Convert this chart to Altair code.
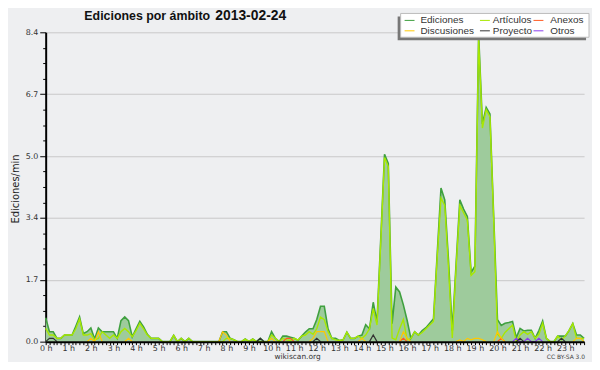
import altair as alt
import pandas as pd

# ---------------- data (10-minute steps, 144 per day) ----------------
hour_labels = [f"{h} h" for h in range(24)]

ediciones = [
    0.65, 0.27, 0.27, 0.09, 0.09, 0.18,   # 0 h
    0.18, 0.18, 0.42, 0.67, 0.22, 0.27,   # 1 h
    0.37, 0.07, 0.37, 0.27, 0.27, 0.27,   # 2 h
    0.27, 0.09, 0.57, 0.67, 0.57, 0.13,   # 3 h
    0.35, 0.55, 0.40, 0.20, 0.09, 0.09,   # 4 h
    0.09, 0.00, 0.00, 0.00, 0.17, 0.00,   # 5 h
    0.09, 0.00, 0.09, 0.00, 0.00, 0.00,   # 6 h
    0.00, 0.00, 0.00, 0.00, 0.00, 0.27,   # 7 h
    0.27, 0.09, 0.05, 0.00, 0.00, 0.07,   # 8 h
    0.00, 0.07, 0.00, 0.09, 0.00, 0.00,   # 9 h
    0.27, 0.09, 0.00, 0.15, 0.15, 0.12,   # 10 h
    0.09, 0.04, 0.15, 0.26, 0.35, 0.35,   # 11 h
    0.60, 0.96, 0.96, 0.35, 0.09, 0.09,   # 12 h
    0.03, 0.05, 0.26, 0.09, 0.09, 0.15,   # 13 h
    0.18, 0.46, 0.35, 1.07, 0.53, 2.80,   # 14 h
    5.09, 4.84, 0.49, 1.48, 1.35, 1.00,   # 15 h
    0.58, 0.09, 0.27, 0.18, 0.30, 0.38,   # 16 h
    0.50, 0.62, 2.40, 4.17, 3.85, 2.20,   # 17 h
    0.30, 2.10, 3.85, 3.60, 3.40, 1.88,   # 18 h
    2.05, 8.34, 5.91, 6.36, 6.18, 3.40,   # 19 h
    0.60, 0.44, 0.50, 0.52, 0.55, 0.11,   # 20 h
    0.36, 0.29, 0.31, 0.31, 0.09, 0.30,   # 21 h
    0.56, 0.09, 0.00, 0.00, 0.15, 0.15,   # 22 h
    0.15, 0.30, 0.49, 0.18, 0.18, 0.09,   # 23 h
]

articulos = [
    0.36, 0.18, 0.18, 0.09, 0.09, 0.18,
    0.18, 0.18, 0.35, 0.62, 0.18, 0.18,
    0.22, 0.05, 0.09, 0.27, 0.18, 0.09,
    0.18, 0.09, 0.27, 0.36, 0.27, 0.13,
    0.30, 0.50, 0.35, 0.18, 0.09, 0.09,
    0.09, 0.00, 0.00, 0.00, 0.17, 0.00,
    0.09, 0.00, 0.09, 0.00, 0.00, 0.00,
    0.00, 0.00, 0.00, 0.00, 0.00, 0.00,
    0.09, 0.09, 0.05, 0.00, 0.00, 0.07,
    0.00, 0.07, 0.00, 0.00, 0.00, 0.00,
    0.18, 0.09, 0.00, 0.09, 0.05, 0.03,
    0.09, 0.04, 0.15, 0.18, 0.27, 0.20,
    0.35, 0.67, 0.60, 0.27, 0.09, 0.05,
    0.03, 0.05, 0.26, 0.09, 0.09, 0.15,
    0.09, 0.18, 0.35, 0.90, 0.45, 2.70,
    5.00, 4.75, 0.10, 0.05, 0.35, 0.60,
    0.05, 0.09, 0.27, 0.18, 0.25, 0.35,
    0.45, 0.55, 2.30, 3.90, 3.70, 2.00,
    0.10, 2.00, 3.70, 3.50, 3.30, 1.80,
    1.90, 8.20, 5.80, 6.30, 6.10, 3.30,
    0.20, 0.09, 0.25, 0.35, 0.45, 0.00,
    0.18, 0.27, 0.20, 0.27, 0.09, 0.20,
    0.50, 0.09, 0.00, 0.00, 0.15, 0.05,
    0.15, 0.30, 0.49, 0.09, 0.09, 0.09,
]

# sparse series: index (10-min slot) -> value, zero elsewhere
discusiones_pts = {12: 0.09, 14: 0.27, 22: 0.09, 47: 0.27, 48: 0.18, 60: 0.09,
                   71: 0.09, 72: 0.27, 73: 0.27, 74: 0.27, 84: 0.09, 95: 0.27,
                   96: 0.09, 110: 0.05, 112: 0.09, 113: 0.05, 114: 0.09,
                   115: 0.09, 116: 0.05, 120: 0.27, 121: 0.09, 141: 0.09, 142: 0.09}
anexos_pts = {64: 0.09, 65: 0.09, 95: 0.09, 121: 0.09}
proyecto_pts = {1: 0.09, 2: 0.09, 57: 0.09, 72: 0.09, 87: 0.18, 126: 0.09, 137: 0.09}
otros_pts = {125: 0.09, 128: 0.09, 131: 0.09}

series_names = ["Ediciones", "Artículos", "Anexos", "Discusiones", "Proyecto", "Otros"]
series_colors = ["#3fa03f", "#a8e800", "#ff5a22", "#ffc800", "#333333", "#8a3cf0"]
fill_color = "#9ecb9c"

y_max = 8.4
y_minor_step = 0.42

title_main = "Ediciones por ámbito"
title_date = "2013-02-24"
y_title = "Ediciones/min"
footer_text = "wikiscan.org"
license_text = "CC BY-SA 3.0"

# ---------------- build table ----------------
n = 144

def sparse(pts):
    # keep only the spikes (and the zero points next to them) so the line breaks elsewhere
    out = []
    for k in range(n):
        if pts.get(k, 0) or pts.get(k - 1, 0) or pts.get(k + 1, 0):
            out.append(pts.get(k, 0.0))
        else:
            out.append(None)
    return out

rows = []
for name, vals in [("Ediciones", ediciones), ("Artículos", articulos),
                   ("Anexos", sparse(anexos_pts)), ("Discusiones", sparse(discusiones_pts)),
                   ("Proyecto", sparse(proyecto_pts)), ("Otros", sparse(otros_pts))]:
    for k, v in enumerate(vals):
        rows.append({"slot": k, "value": v, "series": name})
df = pd.DataFrame(rows)

W, H = 543, 312
FONT = "DejaVu Sans"

x_scale = alt.Scale(domain=[0, n - 1], nice=False, zero=False)
y_scale = alt.Scale(domain=[0, y_max], nice=False)
color_scale = alt.Scale(domain=series_names, range=series_colors)

x_axis = alt.Axis(
    values=list(range(n)),
    labelExpr="datum.value % 6 == 0 ? (datum.value / 6) + ' h' : ''",
    labelOverlap=False, labelFlush=False, labelAngle=0,
    tickSize=3, tickColor="black", tickWidth=1,
    domainColor="black", domainWidth=2, grid=False,
    labelFont=FONT, labelFontSize=8, labelColor="#333333", labelPadding=0,
    title=None, zindex=1,
)
major = "abs(datum.value / 1.68 - round(datum.value / 1.68)) < 0.001"
y_axis = alt.Axis(
    values=[round(y_minor_step * k, 2) for k in range(21)],
    labelExpr=f"{major} ? format(datum.value, '.1f') : ''",
    labelOverlap=False, labelFlush=False,
    tickSize={"condition": {"test": major, "value": 6}, "value": 3},
    gridOpacity={"condition": {"test": major, "value": 1}, "value": 0},
    tickColor="black", tickWidth=1, domainColor="black", domainWidth=2,
    gridColor="#c8c8c8", gridWidth=1,
    labelFont=FONT, labelFontSize=8, labelColor="#333333", labelPadding=2,
    title=None,
)

base = alt.Chart(df)
X = alt.X("slot:Q", scale=x_scale, axis=x_axis)
Y = alt.Y("value:Q", scale=y_scale, axis=y_axis)

area = base.transform_filter(alt.datum.series == "Ediciones").mark_area(
    color=fill_color, opacity=1, interpolate="linear"
).encode(x=X, y=Y)

def line_layer(name, width=1.5):
    return base.transform_filter(alt.datum.series == name).mark_line(
        strokeWidth=width, interpolate="linear"
    ).encode(x=X, y=Y, color=alt.Color("series:N", scale=color_scale, legend=None))

lines = [line_layer("Ediciones", 1.6), line_layer("Artículos", 1.4),
         line_layer("Otros", 1.2), line_layer("Proyecto", 1.2),
         line_layer("Anexos", 1.2), line_layer("Discusiones", 1.2)]

# ---------------- annotations ----------------
one = pd.DataFrame({"k": [0]})
title1 = alt.Chart(one).mark_text(
    text=title_main, font="Liberation Sans", fontSize=12.5, fontWeight="bold",
    align="left", baseline="alphabetic", color="#111111"
).encode(x=alt.value(39), y=alt.value(-12))
title2 = alt.Chart(one).mark_text(
    text=title_date, font="Liberation Sans", fontSize=14, fontWeight="bold",
    align="left", baseline="alphabetic", color="#111111"
).encode(x=alt.value(171), y=alt.value(-12))

ytitle = alt.Chart(one).mark_text(
    text=y_title, font=FONT, fontSize=10, angle=270, align="center",
    baseline="middle", color="#222222"
).encode(x=alt.value(-30), y=alt.value(158))

footer = alt.Chart(one).mark_text(
    text=footer_text, font=FONT, fontSize=7.5, align="center", baseline="alphabetic",
    color="#333333"
).encode(x=alt.value(254), y=alt.value(329.5))

lic = alt.Chart(one).mark_text(
    text=license_text, font=FONT, fontSize=6, align="right", baseline="alphabetic",
    color="#444444"
).encode(x=alt.value(544), y=alt.value(329.5))

# legend box
shadow = alt.Chart(one).mark_rect(color="#777777").encode(
    x=alt.value(355), x2=alt.value(545), y=alt.value(-16), y2=alt.value(8))
box = alt.Chart(one).mark_rect(fill="white", stroke="#bbbbbb", strokeWidth=1).encode(
    x=alt.value(358), x2=alt.value(548), y=alt.value(-19), y2=alt.value(5))

sw_x = [362, 438, 492]
tx_x = [378, 451, 509]
row_y = [-12, -1.5]
leg = pd.DataFrame({
    "series": series_names,
    "sx": [sw_x[k % 3] for k in range(6)],
    "sx2": [sw_x[k % 3] + 10 for k in range(6)],
    "tx": [tx_x[k % 3] for k in range(6)],
    "ty": [row_y[k // 3] for k in range(6)],
})
leg_lines = alt.Chart(leg).mark_rule(strokeWidth=1).encode(
    x=alt.X("sx:Q", scale=None), x2="sx2:Q", y=alt.Y("ty:Q", scale=None),
    color=alt.Color("series:N", scale=color_scale, legend=None))
leg_text = alt.Chart(leg).mark_text(
    font="Liberation Sans", fontSize=10, align="left", baseline="middle", color="#333333"
).encode(x=alt.X("tx:Q", scale=None), y=alt.Y("ty:Q", scale=None), text="series:N")

chart = alt.layer(
    area, *lines, title1, title2, ytitle, footer, lic, shadow, box, leg_lines, leg_text
).resolve_scale(color="shared").properties(
    width=W, height=H,
    autosize=alt.AutoSizeParams(type="none"),
    padding={"left": 38, "top": 23, "right": 8, "bottom": 19},
    background="#eeeff1",
).configure_view(stroke=None)

chart.save("out.html", embed_options={"renderer": "svg", "actions": False})
